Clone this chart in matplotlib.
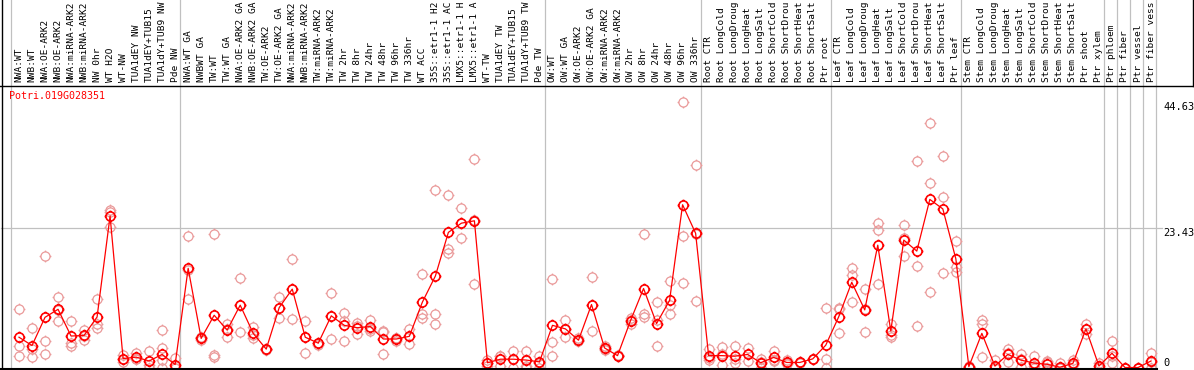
import matplotlib
matplotlib.use("Agg")
import matplotlib.pyplot as plt
from matplotlib.path import Path
from matplotlib.transforms import blended_transform_factory
from matplotlib.lines import Line2D

# ---- data ----
gene_name = "Potri.019G028351"

# header labels as they show in the chart (long names are cut at 14 chars)
sample_labels = [
    # NW
    "NWA:WT", "NWB:WT", "NWA:OE-ARK2", "NWB:OE-ARK2", "NWA:miRNA-ARK2", "NWB:miRNA-ARK2",
    "NW 0hr", "WT H2O", "WT-NW", "TUA1dEY NW", "TUA1dEY+TUB15", "TUA1dY+TUB9 NW", "Pde NW",
    # TW
    "NWA:WT GA", "NWBWT GA", "TW:WT", "TW:WT GA", "NWA:OE-ARK2 GA", "NWB:OE-ARK2 GA",
    "TW:OE-ARK2", "TW:OE-ARK2 GA", "NWA:miRNA-ARK2", "NWB:miRNA-ARK2", "TW:miRNA-ARK2",
    "TW:miRNA-ARK2", "TW 2hr", "TW 8hr", "TW 24hr", "TW 48hr", "TW 96hr", "TW 336hr",
    "WT ACC", "35S::etr1-1 H2", "35S::etr1-1 AC", "LMX5::etr1-1 H", "LMX5::etr1-1 A",
    "WT-TW", "TUA1dEY TW", "TUA1dEY+TUB15", "TUA1dY+TUB9 TW", "Pde TW",
    # OW
    "OW:WT", "OW:WT GA", "OW:OE-ARK2", "OW:OE-ARK2 GA", "OW:miRNA-ARK2", "OW:miRNA-ARK2",
    "OW 2hr", "OW 8hr", "OW 24hr", "OW 48hr", "OW 96hr", "OW 336hr",
    # Root
    "Root CTR", "Root LongCold", "Root LongDroug", "Root LongHeat", "Root LongSalt",
    "Root ShortCold", "Root ShortDrou", "Root ShortHeat", "Root ShortSalt", "Ptr root",
    # Leaf
    "Leaf CTR", "Leaf LongCold", "Leaf LongDroug", "Leaf LongHeat", "Leaf LongSalt",
    "Leaf ShortCold", "Leaf ShortDrou", "Leaf ShortHeat", "Leaf ShortSalt", "Ptr leaf",
    # Stem
    "Stem CTR", "Stem LongCold", "Stem LongDroug", "Stem LongHeat", "Stem LongSalt",
    "Stem ShortCold", "Stem ShortDrou", "Stem ShortHeat", "Stem ShortSalt", "Ptr shoot",
    "Ptr xylem", "Ptr phloem", "Ptr fiber", "Ptr vessel", "Ptr fiber vess",
]

# index where each group starts (gray separators)
group_starts = [0, 13, 41, 53, 63, 73, 84, 85, 86, 87, 88]

mean_values = [
    5.1, 3.7, 8.45, 9.8, 5.3, 5.4, 8.5, 25.5, 1.5, 1.75, 1.1, 2.2, 0.5,
    16.7, 4.9, 8.8, 6.3, 10.5, 5.75, 3.1, 10.1, 13.2, 5.1, 4.1, 8.7, 7.1, 6.7, 6.9, 4.8,
    4.8, 5.25, 11.0, 15.4, 22.75, 24.3, 24.7, 0.8, 1.4, 1.4, 1.25, 0.95,
    7.1, 6.5, 4.6, 10.6, 3.3, 2.0, 7.9, 13.3, 7.4, 11.3, 27.4, 22.6,
    2.0, 2.0, 1.9, 2.2, 0.8, 1.7, 0.85, 0.85, 1.45, 3.75,
    8.55, 14.35, 9.7, 20.6, 6.15, 21.45, 19.6, 28.3, 26.7, 18.3,
    0.15, 5.75, 0.25, 2.2, 1.25, 0.75, 0.55, 0.05, 0.7, 6.5,
    0.25, 2.4, 0.0, 0.0, 1.1,
]

replicate_values = [
    [9.85, 3.7, 1.9], [6.65, 3.05, 1.75], [18.8, 4.45, 2.2], [11.9, 7.8, 9.7],
    [7.8, 4.2, 3.6], [6.3, 4.6, 5.3], [11.5, 7.4, 6.6], [26.6, 26.2, 23.6],
    [1.4, 1.0, 2.1], [2.4, 1.4, 1.5], [2.8, 0.0, 0.5], [6.3, 3.3, 1.2, 0.0],
    [1.65, 0.0, 0.0],
    [22.1, 11.5, 16.5], [5.2, 4.6, 4.9], [22.4, 2.1, 1.8], [7.4, 5.1, 6.4],
    [15.0, 5.9, 10.6], [6.9, 4.9, 5.5], [3.1, 3.0, 3.2], [11.9, 8.4, 10.0],
    [18.2, 8.2, 13.2], [7.8, 2.4, 5.1], [4.2, 3.8, 4.2], [12.5, 4.8, 8.7],
    [9.2, 7.8, 4.45], [7.5, 5.6, 7.0], [8.0, 6.4, 6.2], [6.2, 2.2, 6.0],
    [4.5, 5.0, 4.9], [6.5, 3.9, 5.3], [15.7, 8.95, 8.3], [29.9, 9.0, 7.3],
    [29.0, 19.95, 19.2], [26.8, 21.75, 24.3], [35.05, 14.05, 24.9],
    [0.25, 0.8, 1.3], [2.0, 0.2, 1.9], [2.8, 0.0, 1.4], [2.8, 0.3, 0.0, 1.2],
    [2.0, 0.0, 0.8],
    [14.85, 4.35, 1.9], [8.0, 5.1, 6.4], [4.9, 4.4, 4.5], [15.2, 6.1, 10.5],
    [3.2, 3.0, 3.6], [2.0, 2.1, 1.9], [8.3, 7.4, 8.0], [22.5, 9.0, 8.5],
    [11.0, 8.0, 3.6], [14.55, 10.5, 9.0], [44.63, 22.1, 14.3], [34.1, 11.2, 22.5],
    [3.1, 1.65, 1.3], [3.45, 0.35, 2.2], [3.6, 0.7, 1.4], [3.3, 1.1, 2.2],
    [1.4, 0.0, 1.0], [2.8, 1.15, 1.2], [1.2, 0.6, 0.8], [0.9, 0.8, 0.85],
    [1.5, 1.4, 1.45], [10.1, 1.4, 0.0],
    [10.1, 5.75, 9.8], [16.7, 15.5, 11.1], [13.2, 5.9, 9.9], [24.4, 23.1, 14.0],
    [7.4, 5.5, 5.2], [24.0, 21.85, 18.8], [34.8, 17.1, 7.0], [41.1, 31.0, 12.7],
    [35.6, 28.65, 15.85], [21.3, 17.0, 16.1],
    [0.3, 0.0, 0.1], [8.0, 7.4, 1.7], [1.2, 0.0, 0.0], [3.2, 1.0, 2.4],
    [2.2, 0.1, 1.4], [2.0, 0.0, 0.3], [1.1, 0.9, 0.0], [0.7, 0.0, 0.0],
    [1.3, 0.6, 0.5], [7.4, 5.6, 6.5],
    [0.8, 0.0, 0.0], [4.45, 0.7, 2.0], [0.0, 0.0, 0.0], [0.0, 0.0, 0.0],
    [2.4, 0.0, 1.0],
]

y_ticks = [0, 23.43, 44.63]
y_tick_labels = ["0", "23.43", "44.63"]

# ---- layout (pixels) ----
W, H = 1194, 370
PLOT_LEFT, PLOT_RIGHT = 1, 1157
PLOT_TOP, PLOT_BOTTOM = 85, 369
GRID = "#c0c0c0"
RED = "#ff0000"
PINK = "#ea9a9a"
MONO = "DejaVu Sans Mono"

fig = plt.figure(figsize=(W / 100, H / 100), dpi=100)
ax = fig.add_axes([PLOT_LEFT / W, (H - PLOT_BOTTOM) / H,
                   (PLOT_RIGHT - PLOT_LEFT) / W, (PLOT_BOTTOM - PLOT_TOP) / H])
ax.set_xlim(-1.383, 87.46)
ax.set_ylim(-0.25, 47.56)
ax.axis("off")

# circle marker with small ticks on four sides
circ = Path.unit_circle()
ticks = Path([(0, 1), (0, 1.3), (0, -1), (0, -1.3), (1, 0), (1.3, 0), (-1, 0), (-1.3, 0)],
             [Path.MOVETO, Path.LINETO] * 4)
marker = Path.make_compound_path(circ, ticks)

xs = list(range(len(sample_labels)))
hx = blended_transform_factory(ax.transData, fig.transFigure)

# group separators through header and plot
for g in group_starts:
    fig.add_artist(Line2D([g - 0.6, g - 0.6], [0, 1], transform=hx,
                          color=GRID, lw=0.9, zorder=0))

# horizontal reference line at the middle tick
ax.axhline(y_ticks[1], color=GRID, lw=0.9, zorder=0, xmax=1.004, clip_on=False)

# replicates
for x, reps in zip(xs, replicate_values):
    ax.plot([x] * len(reps), reps, linestyle="none", marker=marker, markersize=8.5,
            markerfacecolor="none", markeredgecolor=PINK, markeredgewidth=0.9, zorder=2)

# means
ax.plot(xs, mean_values, color=RED, lw=0.9, marker=marker, markersize=8.5,
        markerfacecolor="none", markeredgecolor=RED, markeredgewidth=1.2, zorder=3)

# header labels
for x, lab in zip(xs, sample_labels):
    fig.text(x, (H - 82) / H, lab, transform=hx, rotation=90, ha="center", va="bottom",
             fontsize=6.8, family=MONO, color="black")

# frame lines
fig.add_artist(Line2D([0, 1], [(H - 85.5) / H] * 2, color="black", lw=1))
fig.add_artist(Line2D([1.5 / W] * 2, [0, 1], color="black", lw=1))
fig.add_artist(Line2D([(W - 1.5) / W] * 2, [(H - 85.5) / H, 1], color="black", lw=1))
fig.add_artist(Line2D([0, PLOT_RIGHT / W], [(H - 369) / H] * 2, color="black", lw=1.5))

# gene name
fig.text(9.5 / W, (H - 96) / H, gene_name, color=RED, fontsize=7.2, family=MONO,
         ha="left", va="center")

# y tick labels on the right
tx = blended_transform_factory(fig.transFigure, ax.transData)
for v, lab in zip(y_ticks, y_tick_labels):
    fig.text(1163 / W, v, lab, transform=tx, ha="left",
             va="bottom" if v == 0 else "top", fontsize=7.5, family=MONO, color="black")

fig.savefig("out.png", dpi=100)
